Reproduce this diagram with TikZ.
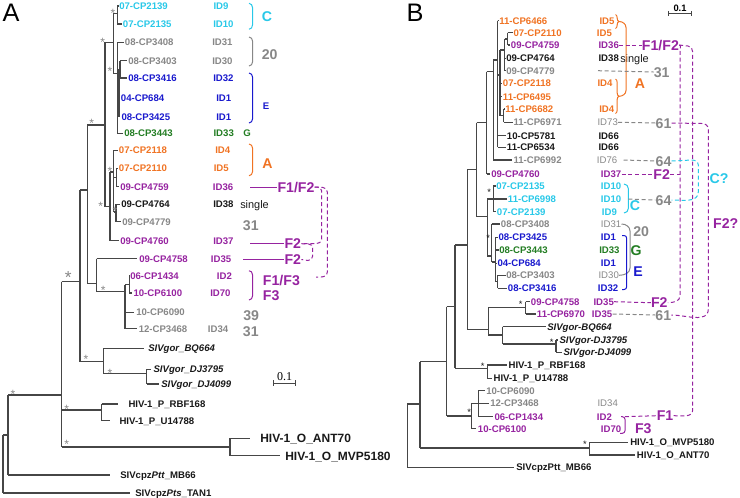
\documentclass[tikz,border=0pt]{standalone}
\usepackage{fontspec}
\setmainfont{Liberation Sans}
\newfontfamily\serifnum{Liberation Serif}
\usetikzlibrary{decorations.pathreplacing}
\definecolor{cy}{RGB}{40,200,232}
\definecolor{gy}{RGB}{135,135,135}
\definecolor{bl}{RGB}{25,25,205}
\definecolor{gr}{RGB}{35,125,35}
\definecolor{orn}{RGB}{240,115,35}
\definecolor{pu}{RGB}{150,35,160}
\definecolor{bk}{RGB}{25,25,25}
\definecolor{tr}{RGB}{70,70,70}
\begin{document}
\begin{tikzpicture}[x=0.75pt,y=-0.75pt,
 lab/.style={anchor=west,inner sep=0pt,text height=5.2pt,text depth=0pt,font=\fontsize{7.2}{8}\selectfont\bfseries},
 labi/.style={lab,font=\fontsize{7.2}{8}\selectfont\bfseries\itshape},
 labr/.style={lab,font=\fontsize{7.2}{8}\selectfont},
 labs/.style={lab,text height=5.8pt,font=\fontsize{8.2}{9}\selectfont},
 labo/.style={lab,text height=6.5pt,font=\fontsize{9}{10}\selectfont\bfseries},
 big/.style={inner sep=0pt,text height=7.6pt,text depth=0pt,font=\fontsize{10.6}{12}\selectfont\bfseries},
 bigw/.style={big,anchor=west},
 tl/.style={draw=tr,line width=0.85pt},
 brk/.style={line width=0.75pt},
 dsh/.style={line width=0.75pt,dash pattern=on 3pt off 2pt},
 sline/.style={line width=0.6pt},
 ast/.style={inner sep=0pt,text=gy,font=\fontsize{9}{9}\selectfont,yshift=-1.9pt},
 astbig/.style={inner sep=0pt,text=gy,font=\fontsize{13}{13}\selectfont,yshift=-2.8pt},
 astb/.style={inner sep=0pt,text=bk,font=\fontsize{7}{7}\selectfont,yshift=-1.5pt},
 bracebr/.style={decorate,decoration={brace,amplitude=2.5pt}},
 panel/.style={inner sep=0pt,font=\fontsize{19}{20}\selectfont},
]
\useasboundingbox (0,0) rectangle (740,497);

% ================= PANEL A =================
\node[panel] (pA) at (11,12.5) {A};

% ---- tree A ----
\draw[tl] (3,435)--(3,493) (3,493)--(130,493) (3,435)--(8,435);
\draw[tl] (8,395)--(8,475) (8,475)--(110,475) (8,395)--(61.7,395);
\draw[tl] (61.7,281.7)--(61.7,447) (61.7,281.7)--(80,281.7) (61.7,410)--(101.7,410) (61.7,447)--(230,447);
\draw[tl] (230,438.3)--(230,455.7) (230,438.3)--(250,438.3) (230,455.7)--(280,455.7);
\draw[tl] (101.7,404)--(101.7,420.7) (101.7,404)--(118,404) (101.7,420.7)--(110,420.7);
\draw[tl] (80,190)--(80,361.7) (80,190)--(87.3,190) (80,361.7)--(103.3,361.7);
\draw[tl] (103.3,348.3)--(103.3,373.3) (103.3,348.3)--(144,348.3) (103.3,373.3)--(146.7,373.3);
\draw[tl] (146.7,369.3)--(146.7,384) (146.7,369.3)--(151,369.3) (146.7,384)--(159,384);
\draw[tl] (87.3,125)--(87.3,283.3) (87.3,125)--(105,125) (87.3,283.3)--(96.7,283.3);
\draw[tl] (96.7,258.7)--(96.7,291.7) (96.7,258.7)--(137,258.7) (96.7,291.7)--(125,291.7);
\draw[tl] (125,284.5)--(125,328.7) (125,284.5)--(129.3,284.5) (125,312.3)--(134,312.3) (125,328.7)--(136.5,328.7);
\draw[tl] (129.3,276)--(129.3,293) (129.3,276)--(129.8,276) (129.3,293)--(132,293);
\draw[tl] (105,42.3)--(105,206.7) (105,42.3)--(113.3,42.3) (105,206.7)--(110,206.7);
\draw[tl] (113.3,13.3)--(113.3,73.3) (113.3,13.3)--(117.3,13.3) (113.3,73.3)--(117.3,73.3);
\draw[tl] (117.3,6)--(117.3,24) (117.3,6)--(118.5,6) (117.3,24)--(121.5,24);
\draw[tl] (117.3,42.3)--(117.3,133.3) (117.3,42.3)--(123.5,42.3) (117.3,133.3)--(122.5,133.3) (117.3,88)--(118.7,88);
\draw[tl,line width=1.3pt] (118.7,69.3)--(118.7,116.7);
\draw[tl] (118.7,97.7)--(119.7,97.7) (118.7,116.7)--(120.3,116.7) (118.7,69.3)--(120,69.3);
\draw[tl] (120,60.7)--(120,78) (120,60.7)--(127,60.7) (120,78)--(127,78);
\draw[tl] (110,172)--(110,240.7) (110,172)--(113.7,172) (110,240.7)--(119,240.7);
\draw[tl] (113.7,150.3)--(113.7,212) (113.7,150.3)--(117.5,150.3) (113.7,177.5)--(116.5,177.5) (113.7,212)--(116,212);
\draw[tl] (116.5,168.3)--(116.5,186.7) (116.5,168.3)--(117.7,168.3) (116.5,186.7)--(119,186.7);
\draw[tl] (116,204.3)--(116,221.7) (116,204.3)--(120,204.3) (116,221.7)--(121,221.7);

% ---- asterisks A ----
\node[ast] (sa1) at (113,11) {*};
\node[ast] (sa2) at (102.7,40) {*};
\node[ast] (sa3) at (110,69.3) {*};
\node[ast] (sa4) at (91.7,120.7) {*};
\node[ast] (sa5) at (110,169.3) {*};
\node[ast] (sa6) at (100.7,204) {*};
\node[ast] (sa7) at (115,209) {*};
\node[astbig] (sa8) at (68.3,274) {*};
\node[ast] (sa9) at (103.3,288.3) {*};
\node[ast] (sa10) at (86,357) {*};
\node[ast] (sa11) at (110,370.7) {*};
\node[ast] (sa12) at (13,392) {*};
\node[ast] (sa13) at (66.7,407) {*};
\node[ast] (sa14) at (66.7,441.7) {*};

% ---- taxa A ----
\node[lab,text=cy] (a1) at (119,6) {07-CP2139};
\node[lab,text=cy] (a2) at (122.7,24) {07-CP2135};
\node[lab,text=gy] (a3) at (124.7,42.3) {08-CP3408};
\node[lab,text=gy] (a4) at (128,60.7) {08-CP3403};
\node[lab,text=bl] (a5) at (128,78) {08-CP3416};
\node[lab,text=bl] (a6) at (120.7,97.7) {04-CP684};
\node[lab,text=bl] (a7) at (121.3,116.7) {08-CP3425};
\node[lab,text=gr] (a8) at (124,133.3) {08-CP3443};
\node[lab,text=orn] (a9) at (118.7,150.3) {07-CP2118};
\node[lab,text=orn] (a10) at (118.7,168.3) {07-CP2110};
\node[lab,text=pu] (a11) at (120,186.7) {09-CP4759};
\node[lab,text=bk] (a12) at (121,204.3) {09-CP4764};
\node[lab,text=gy] (a13) at (122,221.7) {09-CP4779};
\node[lab,text=pu] (a14) at (120,240.7) {09-CP4760};
\node[lab,text=pu] (a15) at (139,258.7) {09-CP4758};
\node[lab,text=pu] (a16) at (130,276) {06-CP1434};
\node[lab,text=pu] (a17) at (133.3,293) {10-CP6100};
\node[lab,text=gy] (a18) at (136,312.3) {10-CP6090};
\node[lab,text=gy] (a19) at (138.5,328.7) {12-CP3468};
\node[labi,text=bk] (a20) at (148,348.3) {SIVgor\_BQ664};
\node[labi,text=bk] (a21) at (153.3,369.3) {SIVgor\_DJ3795};
\node[labi,text=bk] (a22) at (161,384) {SIVgor\_DJ4099};
\node[lab,text=bk] (a23) at (128.3,404) {HIV-1\_P\_RBF168};
\node[lab,text=bk] (a24) at (119.3,420.7) {HIV-1\_P\_U14788};
\node[labo,text=bk] (a25) at (260,438.3) {HIV-1\_O\_ANT70};
\node[labo,text=bk] (a26) at (285,455.7) {HIV-1\_O\_MVP5180};
\node[lab,text=bk] (a27) at (120,475) {SIVcpz\textit{Ptt}\_MB66};
\node[lab,text=bk] (a28) at (135,492.7) {SIVcpz\textit{Pts}\_TAN1};

% ---- IDs A ----
\node[lab,text=cy] (ia1) at (213.3,6) {ID9};
\node[lab,text=cy] (ia2) at (213,24) {ID10};
\node[lab,text=gy] (ia3) at (212,42.3) {ID31};
\node[lab,text=gy] (ia4) at (212,60.7) {ID30};
\node[lab,text=bl] (ia5) at (213,78) {ID32};
\node[lab,text=bl] (ia6) at (216,97.7) {ID1};
\node[lab,text=bl] (ia7) at (216,116.7) {ID1};
\node[lab,text=gr] (ia8) at (213.3,133.3) {ID33};
\node[lab,text=orn] (ia9) at (215,150.3) {ID4};
\node[lab,text=orn] (ia10) at (213.5,168.3) {ID5};
\node[lab,text=pu] (ia11) at (212.7,186.7) {ID36};
\node[lab,text=bk] (ia12) at (213,204.3) {ID38};
\node[lab,text=pu] (ia14) at (213,240.7) {ID37};
\node[lab,text=pu] (ia15) at (210.7,258.7) {ID35};
\node[lab,text=pu] (ia16) at (216.7,276) {ID2};
\node[lab,text=pu] (ia17) at (210,293) {ID70};
\node[lab,text=gy] (ia19) at (207.7,328.7) {ID34};

% ---- annotations A ----
\draw[cy,brk] (249,3.3) to[out=0,in=90] (252.5,7.5) -- (252.5,25) to[out=-90,in=0] (249,29.3);
\draw[gy,brk] (249,37) to[out=0,in=90] (252.5,41) -- (252.5,62) to[out=-90,in=0] (249,66);
\draw[bl,brk] (249,73) to[out=0,in=90] (252.5,77) -- (252.5,119) to[out=-90,in=0] (249,123);
\draw[orn,brk] (249,144) to[out=0,in=90] (252.5,148) -- (252.5,171.7) to[out=-90,in=0] (249,175.7);
\draw[pu,brk] (249,270.7) to[out=0,in=90] (252.5,274.7) -- (252.5,296) to[out=-90,in=0] (249,300);

\node[big,text=cy] (aC) at (267,16.7) {C};
\node[big,text=gy] (a20l) at (269.7,54) {20};
\node[lab,text=bl] (aE) at (262.7,106) {E};
\node[lab,text=gr] (aG) at (243,133.3) {G};
\node[big,text=orn] (aA) at (267.5,163.3) {A};
\node[bigw,text=pu] (aF12) at (277.3,187) {F1/F2};
\node[labs,text=bk] (asingle) at (240,204.3) {single};
\node[bigw,text=gy] (a31) at (242.7,225) {31};
\node[bigw,text=pu] (aF2a) at (284.3,243.7) {F2};
\node[bigw,text=pu] (aF2b) at (284.3,259.5) {F2};
\node[bigw,text=pu] (aF13) at (262.7,280) {F1/F3};
\node[bigw,text=pu] (aF3) at (262.7,295.5) {F3};
\node[bigw,text=gy] (a39) at (243,315) {39};
\node[bigw,text=gy] (a31b) at (242.7,331.7) {31};

\draw[pu,sline] (250,187) -- (aF12.west);
\draw[pu,sline] (250,243.7) -- (aF2a.west);
\draw[pu,sline] (243.3,259.5) -- (aF2b.west);

\draw[pu,dsh] (aF12.east) -- (317,187) to[out=0,in=90] (321.7,191) -- (321.7,239) to[out=-90,in=0] (316,243.7) -- (aF2a.east);
\draw[pu,dsh] (aF12.east) -- (323,187.5) to[out=0,in=90] (327.3,192) -- (327.3,272) to[out=-90,in=0] (321,277) -- (316,277);
\draw[pu,dsh] (aF2a.east) -- (308.5,244) to[out=0,in=90] (312.7,248) -- (312.7,256) to[out=-90,in=0] (308,260.5) -- (aF2b.east);

% scale bar A
\draw[tr,line width=0.7pt] (273.3,383.3)--(295.7,383.3) (273.3,380.3)--(273.3,386.3) (295.7,380.3)--(295.7,386.3);
\node[inner sep=0pt,font=\serifnum\fontsize{9}{10}\selectfont] (scA) at (284.5,376.5) {0.1};

% ================= PANEL B =================
\node[panel] (pB) at (415,13) {B};

% ---- tree B ----
\draw[tl] (407.3,404)--(407.3,467.3) (407.3,404)--(420,404) (407.3,467.3)--(513.5,467.3);
\draw[tl] (420,361.7)--(420,448) (420,361.7)--(446.7,361.7) (420,448)--(589.3,448);
\draw[tl] (589.3,442.3)--(589.3,455) (589.3,442.3)--(628,442.3) (589.3,455)--(634.5,455);
\draw[tl] (446.7,306.7)--(446.7,416) (446.7,306.7)--(455,306.7) (446.7,416)--(471.7,416);
\draw[tl] (471.7,403.3)--(471.7,428.7) (471.7,403.3)--(478.3,403.3) (471.7,428.7)--(476,428.7);
\draw[tl] (478.3,390.7)--(478.3,416.7) (478.3,390.7)--(484.5,390.7) (478.3,403.3)--(488.5,403.3) (478.3,416.7)--(492.8,416.7);
\draw[tl] (455,245)--(455,368.3) (455,245)--(467.3,245) (455,368.3)--(487.3,368.3);
\draw[tl] (487.3,365)--(487.3,378.3) (487.3,365)--(506.7,365) (487.3,378.3)--(492,378.3);
\draw[tl] (467.3,169.3)--(467.3,329.3) (467.3,169.3)--(476.7,169.3) (467.3,329.3)--(488.3,329.3);
\draw[tl] (488.3,307.8)--(488.3,335) (488.3,307.8)--(525.7,307.8) (488.3,335)--(502.7,335);
\draw[tl] (525.7,301.7)--(525.7,314) (525.7,301.7)--(529.5,301.7) (525.7,314)--(535.5,314);
\draw[tl] (502.7,326.7)--(502.7,344) (502.7,326.7)--(545.5,326.7) (502.7,344)--(556,344);
\draw[tl] (556,340)--(556,352.3) (556,340)--(558,340) (556,352.3)--(562,352.3);
\draw[tl] (476.7,122.7)--(476.7,216.7) (476.7,122.7)--(486.7,122.7) (476.7,216.7)--(487.3,216.7);
\draw[tl] (486.7,71.7)--(486.7,174) (486.7,71.7)--(493.3,71.7) (486.7,174)--(490,174);
\draw[tl] (493.3,60)--(493.3,160) (493.3,60)--(497.5,60) (493.3,160)--(512,160);
\draw[tl] (497.5,20.7)--(497.5,147.3) (497.5,20.7)--(498.5,20.7) (497.5,135.7)--(505.5,135.7) (497.5,147.3)--(505.5,147.3) (497.5,75)--(500,75);
\draw[tl,line width=1.2pt] (500,50)--(500,115.6);
\draw[tl] (500,50)--(504.5,50) (500,83.3)--(502,83.3) (500,96.7)--(502,96.7) (500,115.6)--(503.5,115.6);
\draw[tl] (504.5,39)--(504.5,70.7) (504.5,39)--(507.5,39) (504.5,58.3)--(505.5,58.3) (504.5,70.7)--(505.5,70.7);
\draw[tl] (507.5,32.7)--(507.5,45) (507.5,32.7)--(512.5,32.7) (507.5,45)--(510,45);
\draw[tl] (503.5,109)--(503.5,122.3) (503.5,109)--(504.5,109) (503.5,122.3)--(512.5,122.3);
\draw[tl] (487.3,199)--(487.3,256) (487.3,199)--(493.3,199) (487.3,256)--(491.7,256);
\draw[tl] (493.3,186)--(493.3,211.7) (493.3,186)--(495.5,186) (493.3,199)--(507,199) (493.3,211.7)--(496,211.7);
\draw[tl] (491.7,224)--(491.7,262) (491.7,224)--(500,224) (491.7,262)--(495.5,262);
\draw[tl,line width=1.1pt] (495.5,237.3)--(495.5,281.8);
\draw[tl] (495.5,237.3)--(497.8,237.3) (495.5,250)--(498.5,250) (495.5,263.3)--(496.8,263.3) (495.5,281.8)--(497.5,281.8);
\draw[tl] (497.5,275.3)--(497.5,288.3) (497.5,275.3)--(505.5,275.3) (497.5,288.3)--(507,288.3);

% ---- asterisks B ----
\node[astb] (sb1) at (489.3,190.7) {*};
\node[astb] (sb2) at (488.3,236) {*};
\node[astb] (sb3) at (520.7,302.7) {*};
\node[astb] (sb4) at (551.7,340) {*};
\node[astb] (sb5) at (482.7,364.7) {*};
\node[astb] (sb6) at (469.3,410.7) {*};
\node[astb] (sb7) at (585,442.7) {*};

% ---- taxa B ----
\node[lab,text=orn] (b1) at (499,20.7) {11-CP6466};
\node[lab,text=orn] (b2) at (513.3,32.7) {07-CP2110};
\node[lab,text=pu] (b3) at (510.7,45) {09-CP4759};
\node[lab,text=bk] (b4) at (506,58.3) {09-CP4764};
\node[lab,text=gy] (b5) at (506,70.7) {09-CP4779};
\node[lab,text=orn] (b6) at (502.7,83.3) {07-CP2118};
\node[lab,text=orn] (b7) at (502.7,96.7) {11-CP6495};
\node[lab,text=orn] (b8) at (505,109) {11-CP6682};
\node[lab,text=gy] (b9) at (513.3,122.3) {11-CP6971};
\node[lab,text=bk] (b10) at (506.7,135.7) {10-CP5781};
\node[lab,text=bk] (b11) at (506.7,147.3) {11-CP6534};
\node[lab,text=gy] (b12) at (513.3,160) {11-CP6992};
\node[lab,text=pu] (b13) at (491,174) {09-CP4760};
\node[lab,text=cy] (b14) at (496,186) {07-CP2135};
\node[lab,text=cy] (b15) at (507.7,199) {11-CP6998};
\node[lab,text=cy] (b16) at (496.7,211.7) {07-CP2139};
\node[lab,text=gy] (b17) at (500.7,224) {08-CP3408};
\node[lab,text=bl] (b18) at (498.3,237.3) {08-CP3425};
\node[lab,text=gr] (b19) at (499,250) {08-CP3443};
\node[lab,text=bl] (b20) at (497.3,263.3) {04-CP684};
\node[lab,text=gy] (b21) at (506,275.3) {08-CP3403};
\node[lab,text=bl] (b22) at (507.7,288.3) {08-CP3416};
\node[lab,text=pu] (b23) at (530.7,301.7) {09-CP4758};
\node[lab,text=pu] (b24) at (536.7,314) {11-CP6970};
\node[labi,text=bk] (b25) at (547,326.7) {SIVgor-BQ664};
\node[labi,text=bk] (b26) at (559.3,340) {SIVgor-DJ3795};
\node[labi,text=bk] (b27) at (563.3,352.3) {SIVgor-DJ4099};
\node[lab,text=bk] (b28) at (508.3,365) {HIV-1\_P\_RBF168};
\node[lab,text=bk] (b29) at (493.3,378.3) {HIV-1\_P\_U14788};
\node[lab,text=gy] (b30) at (486,390.7) {10-CP6090};
\node[lab,text=gy] (b31) at (490,403.3) {12-CP3468};
\node[lab,text=pu] (b32) at (494.3,416.7) {06-CP1434};
\node[lab,text=pu] (b33) at (477.7,428.7) {10-CP6100};
\node[lab,text=bk] (b34) at (630,442.3) {HIV-1\_O\_MVP5180};
\node[lab,text=bk] (b35) at (636.7,455) {HIV-1\_O\_ANT70};
\node[lab,text=bk] (b36) at (516,467.3) {SIVcpzPtt\_MB66};

% ---- IDs B ----
\node[lab,text=orn] (ib1) at (599.3,20.7) {ID5};
\node[lab,text=orn] (ib2) at (596.7,32.7) {ID5};
\node[lab,text=pu] (ib3) at (598.3,45) {ID36};
\node[lab,text=bk] (ib4) at (598.3,58.3) {ID38};
\node[labs,text=bk] (bsingle) at (620,58.3) {single};
\node[lab,text=orn] (ib6) at (597.3,83.3) {ID4};
\node[lab,text=orn] (ib8) at (599,109) {ID4};
\node[labr,text=gy] (ib9) at (597.3,122.3) {ID73};
\node[lab,text=bk] (ib10) at (598.3,135.7) {ID66};
\node[lab,text=bk] (ib11) at (598.3,147.3) {ID66};
\node[labr,text=gy] (ib12) at (596.7,160) {ID76};
\node[lab,text=pu] (ib13) at (600.7,174) {ID37};
\node[lab,text=cy] (ib14) at (600.7,186) {ID10};
\node[lab,text=cy] (ib15) at (600.7,199) {ID10};
\node[lab,text=cy] (ib16) at (601.7,211.7) {ID9};
\node[labr,text=gy] (ib17) at (600.7,224) {ID31};
\node[lab,text=bl] (ib18) at (600.7,237.3) {ID1};
\node[lab,text=gr] (ib19) at (599,250) {ID33};
\node[lab,text=bl] (ib20) at (600.7,263.3) {ID1};
\node[labr,text=gy] (ib21) at (598.3,275.3) {ID30};
\node[lab,text=bl] (ib22) at (597.7,288.3) {ID32};
\node[lab,text=pu] (ib23) at (593.3,301.7) {ID35};
\node[lab,text=pu] (ib24) at (591.7,314) {ID35};
\node[labr,text=gy] (ib31) at (597.3,403.3) {ID34};
\node[lab,text=pu] (ib32) at (596.7,416.7) {ID2};
\node[lab,text=pu] (ib33) at (600.7,428.7) {ID70};

% ---- annotations B ----
\draw[orn,brk,bracebr] (615.5,14.5)--(615.5,28.5);
\draw[orn,brk,bracebr] (615.5,79)--(615.5,113.5);
\draw[orn,brk] (619,21.5) to[out=0,in=90] (626,27.5) -- (626,90.5) to[out=-90,in=0] (619,96.3);
\draw[cy,brk] (624,184) to[out=0,in=90] (628.3,188.5) -- (628.3,208.5) to[out=-90,in=0] (624,213);
\draw[gy,brk] (ib17.east) to[out=0,in=90] (630,231) -- (630,268) to[out=-90,in=0] (ib21.east);
\draw[bl,brk,rounded corners=2pt] (622,235.5) -- (626.7,235.5) -- (626.7,289.5) -- (622,289.5);
\draw[pu,brk,rounded corners=2pt] (621,416.7) -- (625,416.7) -- (625,433.3) -- (620,433.3);

\node[big,text=orn] (bA) at (640,83.3) {A};
\node[bigw,text=pu] (bF12) at (641.7,45) {F1/F2};
\node[big,text=gy] (b31l) at (661.7,72) {31};
\node[big,text=gy] (b61a) at (663.5,123) {61};
\node[big,text=gy] (b64a) at (663.5,161) {64};
\node[big,text=pu] (bF2a) at (661.7,174) {F2};
\node[big,text=gy] (b64b) at (663.5,200) {64};
\node[big,text=cy] (bC) at (635,205) {C};
\node[big,text=gy] (b20l) at (641.2,231.7) {20};
\node[big,text=gr] (bG) at (636,250) {G};
\node[big,text=bl] (bE) at (638,271.7) {E};
\node[big,text=pu] (bF2b) at (659.3,302.7) {F2};
\node[big,text=gy] (b61b) at (663.3,315) {61};
\node[big,text=pu] (bF1) at (665,415.7) {F1};
\node[big,text=pu] (bF3) at (643.3,428.3) {F3};
\node[big,text=cy] (bCq) at (719,178.3) {C?};
\node[big,text=pu] (bF2q) at (725.8,223.3) {F2?};

\draw[gy,dsh] (598,70.7) -- (b31l.west);
\draw[gy,dsh] (ib9.east) -- (b61a.west);
\draw[gy,dsh] ([xshift=4.5pt]ib12.east) -- (b64a.west);
\draw[gy,dsh] (628.3,199) -- (b64b.west);
\draw[gy,dsh] (ib24.east) -- (b61b.west);
\draw[pu,dsh] (ib3.east) -- (bF12.west);
\draw[pu,dsh] (ib13.east) -- (bF2a.west);
\draw[pu,dsh] (ib23.east) -- (bF2b.west);
\draw[pu,dsh] (625,416.7) -- (bF1.west);

\draw[pu,dsh] (bF12.east) to[out=0,in=90] (680,51) -- (680,296) to[out=-90,in=0] (bF2b.east);
\draw[pu,dsh] (bF12.east) -- (688,46) to[out=0,in=90] (692.7,52) -- (692.7,410) to[out=-90,in=0] (bF1.east);
\draw[pu,dsh] (bF2a.east) -- (680,174);
\draw[pu,dsh] (b61a.east) -- (702,123.5) to[out=0,in=90] (708.3,129) -- (708.3,309) to[out=-90,in=0] (b61b.east);
\draw[cy,dsh] (b64a.east) -- (692,160) to[out=0,in=90] (698.3,165) -- (698.3,192) to[out=-90,in=0] (b64b.east);

% scale bar B
\draw[tr,line width=0.7pt] (668.3,13.3)--(691.7,13.3) (668.3,10.8)--(668.3,15.8) (691.7,10.8)--(691.7,15.8);
\node[inner sep=0pt,font=\fontsize{7}{8}\selectfont\bfseries] (scB) at (680,8.3) {0.1};
\end{tikzpicture}
\end{document}
